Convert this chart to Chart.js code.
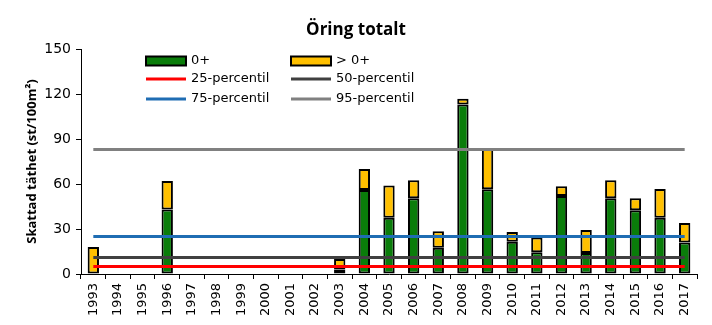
<!DOCTYPE html>
<html>
<head>
<meta charset="utf-8">
<script src="https://cdn.jsdelivr.net/npm/chart.js@4"></script>
<style>
  html, body { margin: 0; padding: 0; background: #fff; }
  #wrap { width: 712px; height: 325px; }
</style>
</head>
<body>
<div id="wrap"><canvas id="myChart" width="712" height="325"></canvas></div>
<script>
// Data
var years = ["1993", "1994", "1995", "1996", "1997", "1998", "1999", "2000", "2001", "2002", "2003", "2004", "2005",
             "2006", "2007", "2008", "2009", "2010", "2011", "2012", "2013", "2014", "2015", "2016", "2017"];
var ungar = [0, null, null, 43, null, null, null, null, null, null, 3, 56, 37.5,
             50.5, 17.5, 113, 56.5, 21.5, 14.5, 52, 14, 50.5, 42.5, 37.5, 21];
var aldre = [18, null, null, 19, null, null, null, null, null, null, 7, 14, 21.5,
             12, 11, 3.8, 27.5, 6.5, 9.8, 6.5, 15.3, 12, 8, 19.2, 13];
var percentilNamn = ["25-percentil", "50-percentil", "75-percentil", "95-percentil"];
var percentilVarden = [5, 11, 25, 83];
var yTicks = [0, 30, 60, 90, 120, 150];

var percentilFarger = ["#ff0000", "#404040", "#1f6db3", "#808080"];

// Linjer från första till sista året (egen stack så de inte läggs på varandra)
var linjer = percentilNamn.map(function(namn, i) {
  return {
    type: 'line',
    label: namn,
    stack: 'percentil' + i,
    data: [{ x: years[0], y: percentilVarden[i] }, { x: years[years.length - 1], y: percentilVarden[i] }],
    borderColor: percentilFarger[i],
    backgroundColor: percentilFarger[i],
    borderWidth: 3,
    pointRadius: 0,
    order: 1
  };
});

// Egen legend och titel, ritas som i originalet
var egenLegend = {
  id: 'egenLegend',
  afterDraw: function(chart) {
    var ctx = chart.ctx;
    ctx.save();
    ctx.fillStyle = '#000';
    ctx.font = 'bold 17px "Open Sans"';
    ctx.textAlign = 'center';
    ctx.textBaseline = 'middle';
    ctx.fillText('Öring totalt', 356, 30);

    var poster = [
      { text: '0+', box: '#0a7d0a', x: 146, y: 61 },
      { text: '> 0+', box: '#ffc000', x: 291, y: 61 },
      { text: percentilNamn[0], line: percentilFarger[0], x: 146, y: 79 },
      { text: percentilNamn[1], line: percentilFarger[1], x: 291, y: 79 },
      { text: percentilNamn[2], line: percentilFarger[2], x: 146, y: 99 },
      { text: percentilNamn[3], line: percentilFarger[3], x: 291, y: 99 }
    ];
    ctx.font = '13px "DejaVu Sans"';
    ctx.textAlign = 'left';
    poster.forEach(function(p) {
      if (p.box) {
        ctx.fillStyle = p.box;
        ctx.fillRect(p.x, p.y - 4.5, 40, 9);
        ctx.strokeStyle = '#000';
        ctx.lineWidth = 2;
        ctx.strokeRect(p.x, p.y - 4.5, 40, 9);
      } else {
        ctx.strokeStyle = p.line;
        ctx.lineWidth = 3;
        ctx.beginPath();
        ctx.moveTo(p.x, p.y);
        ctx.lineTo(p.x + 40, p.y);
        ctx.stroke();
      }
      ctx.fillStyle = '#000';
      ctx.fillText(p.text, p.x + 45, p.y);
    });
    ctx.restore();
  }
};

var ctx = document.getElementById('myChart').getContext('2d');
var myChart = new Chart(ctx, {
  type: 'bar',
  data: {
    labels: years,
    datasets: [{
      label: '0+',
      data: ungar,
      stack: 'stapel',
      backgroundColor: '#0a7d0a',
      borderColor: '#000',
      borderWidth: 2,
      borderSkipped: false,
      barPercentage: 0.46,
      categoryPercentage: 1,
      order: 2
    }, {
      label: '> 0+',
      data: aldre,
      stack: 'stapel',
      backgroundColor: '#ffc000',
      borderColor: '#000',
      borderWidth: 2,
      borderSkipped: false,
      barPercentage: 0.46,
      categoryPercentage: 1,
      order: 2
    }].concat(linjer)
  },
  options: {
    responsive: false,
    animation: false,
    layout: { padding: { top: 49, right: 15, left: 0, bottom: 0 } },
    plugins: {
      legend: { display: false },
      title: { display: false },
      tooltip: { enabled: false }
    },
    scales: {
      x: {
        stacked: true,
        offset: true,
        afterFit: function(scale) { scale.height = 51; },
        grid: {
          offset: true,
          drawOnChartArea: false,
          drawTicks: true,
          tickLength: 5,
          color: '#000'
        },
        border: { color: '#000', width: 1 },
        ticks: {
          minRotation: 90,
          maxRotation: 90,
          autoSkip: false,
          padding: 4,
          color: '#000',
          font: { family: '"DejaVu Sans"', size: 13 }
        }
      },
      y: {
        stacked: true,
        min: 0,
        max: 150,
        afterFit: function(scale) { scale.width = 81; },
        afterBuildTicks: function(scale) {
          scale.ticks = yTicks.map(function(v) { return { value: v }; });
        },
        grid: {
          drawOnChartArea: false,
          drawTicks: true,
          tickLength: 5,
          color: '#000'
        },
        border: { color: '#000', width: 1 },
        ticks: {
          padding: 5,
          color: '#000',
          font: { family: '"DejaVu Sans"', size: 14 }
        },
        title: {
          display: true,
          text: 'Skattad täthet (st/100m²)',
          color: '#000',
          padding: { top: 24, bottom: 0 },
          font: { family: '"Open Sans"', size: 13, weight: 'bold' }
        }
      }
    }
  },
  plugins: [egenLegend]
});
</script>
</body>
</html>
